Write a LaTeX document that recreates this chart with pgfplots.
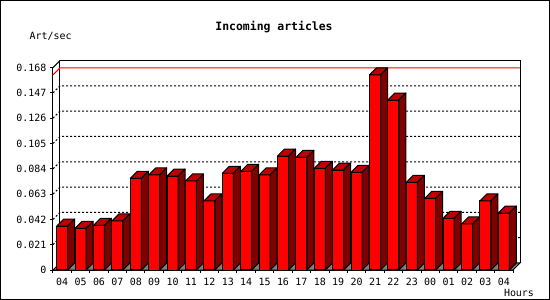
\documentclass[border=0pt]{standalone}
\usepackage{fontspec}
\setmainfont{DejaVu Sans Mono}
\usepackage{pgfplots}
\pgfplotsset{compat=1.18}
\definecolor{barfront}{RGB}{255,0,0}
\definecolor{bartop}{RGB}{192,0,0}
\definecolor{barside}{RGB}{128,0,0}
\definecolor{floorgray}{RGB}{128,128,128}
\pgfdeclareplotmark{void}{}
\tikzset{back/.style={shift={(7bp,7bp)}}}
\begin{document}
\begin{tikzpicture}
\begin{axis}[
  x=18.4bp, y=1204.8bp,
  xmin=-0.5, xmax=24.5, ymin=0, ymax=0.168,
  axis x line*=bottom, axis y line*=left,
  axis line style={line width=1bp, black},
  clip=false,
  tick align=outside,
  major tick length=3bp,
  tick style={line width=1bp, black},
  xtick={-0.5,0.5,...,24.5},
  x tick label as interval,
  xticklabels={04,05,06,07,08,09,10,11,12,13,14,15,16,17,18,19,20,21,22,23,00,01,02,03,04},
  xticklabel style={yshift=-1.5bp},
  ytick={0,0.021,0.042,0.063,0.084,0.105,0.126,0.147,0.168},
  yticklabels={0,0.021,0.042,0.063,0.084,0.105,0.126,0.147,0.168},
  tick label style={font=\fontsize{10}{12}\selectfont, black},
  /pgf/number format/assume math mode=true,
]
% outer frame
\draw[line width=1bp] ([shift={(0.5bp,0.5bp)}]axis cs:-3.3804,-0.0249) rectangle ([shift={(-0.5bp,-0.5bp)}]axis cs:26.5109,0.224104);
% floor
\filldraw[fill=floorgray, draw=black, line width=1bp] (axis cs:-0.5,0) -- ([back]axis cs:-0.5,0) -- ([back]axis cs:24.5,0) -- (axis cs:24.5,0) -- cycle;
% back wall
\draw[line width=1bp] ([back]axis cs:-0.5,0) -- ([back]axis cs:-0.5,0.168) -- ([back]axis cs:24.5,0.168) -- ([back]axis cs:24.5,0);
\draw[line width=1bp] (axis cs:-0.5,0.168) -- ([back]axis cs:-0.5,0.168);
% grid
\pgfplotsinvokeforeach{0.021,0.042,0.063,0.084,0.105,0.126,0.147}{
  \draw[line width=1bp, dash pattern=on 2bp off 2bp] (axis cs:-0.5,#1) -- ([back]axis cs:-0.5,#1) -- ([back]axis cs:24.5,#1);
}
% max line
\draw[line width=1bp, red] (axis cs:-0.5,0.1619) -- ([back]axis cs:-0.5,0.1619) -- ([back]axis cs:24.5,0.1619);
% bars
\addplot[
  scatter, only marks, mark=void,
  visualization depends on={value \thisrow{y} \as \rawv},
  scatter/@pre marker code/.code={%
    \begingroup
    \pgfkeys{/pgf/fpu=false}%
    \pgfmathsetmacro\h{\rawv*1204.8}%
    \pgfmathsetmacro\hb{7-\h}%
    \xdef\barh{\h}\xdef\barhb{\hb}%
    \endgroup
    \filldraw[fill=barfront, draw=black, line width=1bp] (-5.5bp,-\barh bp) rectangle (5.5bp,0bp);
    \filldraw[fill=bartop, draw=black, line width=1bp, line join=round] (-5.5bp,0bp) -- (1.5bp,7bp) -- (12.5bp,7bp) -- (5.5bp,0bp) -- cycle;
    \filldraw[fill=barside, draw=black, line width=1bp, line join=round] (5.5bp,0bp) -- (12.5bp,7bp) -- (12.5bp,\barhb bp) -- (5.5bp,-\barh bp) -- cycle;
  },
  scatter/@post marker code/.code={},
] table[x=x, y=y] {
x y
0 0.0365
1 0.0346
2 0.0371
3 0.0407
4 0.0761
5 0.0789
6 0.0780
7 0.0739
8 0.0573
9 0.0802
10 0.0819
11 0.0789
12 0.0946
13 0.0935
14 0.0844
15 0.0830
16 0.0811
17 0.1619
18 0.1411
19 0.0728
20 0.0595
21 0.0429
22 0.0382
23 0.0573
24 0.0473
};
% texts
\node[font=\fontsize{11.5}{13}\selectfont\bfseries, anchor=center] at (axis cs:11.511,0.20194) {Incoming articles};
\node[font=\fontsize{10}{12}\selectfont, anchor=center] at (axis cs:-0.633,0.19364) {Art/sec};
\node[font=\fontsize{10}{12}\selectfont, anchor=center] at (axis cs:24.826,-0.018842) {Hours};
\end{axis}
\end{tikzpicture}
\end{document}
